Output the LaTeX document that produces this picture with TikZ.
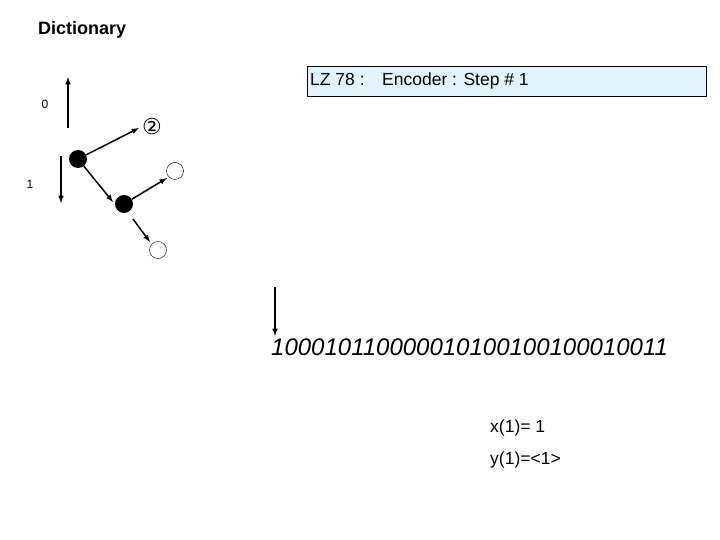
\documentclass[tikz,border=0pt]{standalone}
\usepackage{fontspec}
\setmainfont{Liberation Sans}
\newfontfamily\djv{DejaVu Sans}
\begin{document}
\begin{tikzpicture}[x=1pt,y=-1pt,
  arr/.style={-latex,line width=1.5pt},
  full/.style={circle,fill=black,minimum size=18pt,inner sep=0pt},
  open/.style={circle,draw,minimum size=17pt,inner sep=0pt},
  lbl/.style={font=\fontsize{17.5}{20}\selectfont,anchor=west,inner sep=0pt}]
\useasboundingbox (0,0) rectangle (720,540);
\node[font=\bfseries\fontsize{18}{21}\selectfont,anchor=west,inner sep=0pt] (dict) at (38,30) {Dictionary};
\node[draw,fill=cyan!12,minimum width=399pt,minimum height=30pt,anchor=north west,inner sep=0pt] (box) at (307,66) {};
\node[lbl] (title) at (310,81) {LZ 78 :\quad Encoder : Step \# 1};
\coordinate (u0) at (68,128); \coordinate (u1) at (68,77);
\draw[arr] (u0) -- (u1);
\node[font=\fontsize{12}{14}\selectfont] (l0) at (45,104) {0};
\coordinate (d0) at (61,156); \coordinate (d1) at (61,203);
\draw[arr] (d0) -- (d1);
\node[font=\fontsize{12}{14}\selectfont] (l1) at (30,184) {1};
\node[full] (n1) at (78,159) {};
\node[full] (n2) at (124,204) {};
\node[open] (o1) at (175,171) {};
\node[open] (o2) at (158,250) {};
\node[font=\djv\fontsize{22}{24}\selectfont,inner sep=0pt] (two) at (152,126) {②};
\coordinate (t2) at (139,128);
\draw[arr] (n1) -- (t2);
\draw[arr] (n1) -- (113,202) coordinate (t3);
\draw[arr] (n2) -- (167,178) coordinate (t4);
\coordinate (s5) at (133,219); \coordinate (t5) at (150,242);
\draw[arr] (s5) -- (t5);
\coordinate (b0) at (275,287); \coordinate (b1) at (275,336);
\draw[arr] (b0) -- (b1);
\node[font=\itshape\fontsize{24}{27}\selectfont,anchor=west,inner sep=0pt] (bits) at (271,347) {100010110000010100100100010011};
\node[lbl] (x1) at (490,428) {x(1)= 1};
\node[lbl] (y1) at (490,460) {y(1)=<1>};
\end{tikzpicture}
\end{document}
